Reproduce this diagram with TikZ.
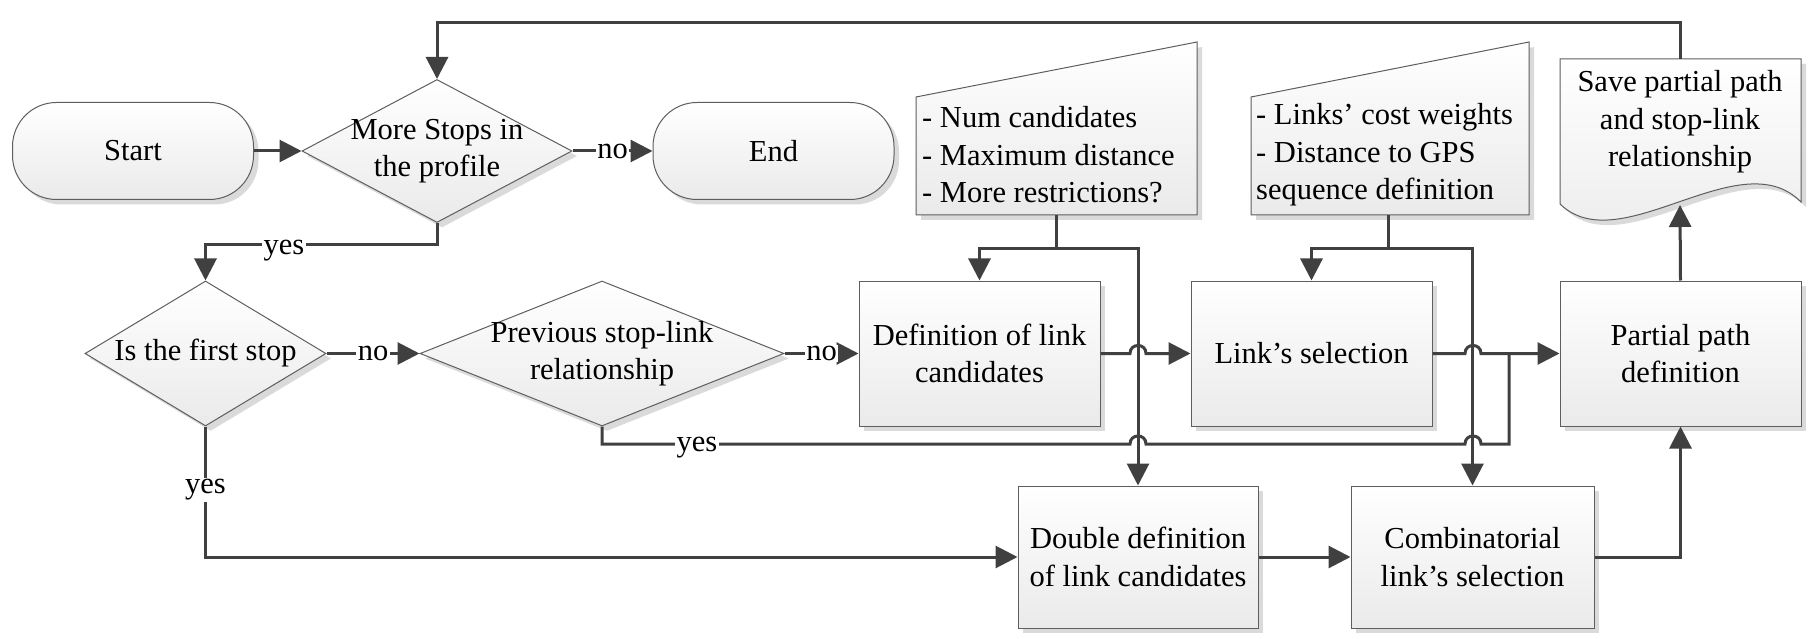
\documentclass[tikz,border=0pt]{standalone}
\usepackage{fontspec}
\setmainfont{Liberation Serif}
\usetikzlibrary{arrows.meta,shapes.geometric,shadows,calc}
\definecolor{lnc}{HTML}{404040}
\definecolor{bdc}{HTML}{5E5E5E}
\definecolor{shc}{HTML}{DADADA}
\definecolor{btm}{HTML}{EAEAEA}
\begin{document}
\begin{tikzpicture}[x=1pt,y=-1pt,
  font=\fontsize{30.5}{37.5}\selectfont,
  base/.style={draw=bdc, line width=1pt, top color=white, bottom color=btm,
    drop shadow={shadow xshift=5pt,shadow yshift=-5pt,fill=shc,opacity=1}},
  term/.style={base, rectangle, rounded corners=44pt, minimum width=241pt, minimum height=97pt, inner sep=0pt},
  dia/.style={base, diamond, inner sep=0pt},
  proc/.style={base, rectangle, minimum width=241pt, minimum height=145pt, inner sep=0pt, align=center},
  txt/.style={inner sep=0pt, align=center},
  conn/.style={draw=lnc, line width=3pt, -{Triangle[length=22pt,width=22pt]}},
  plain/.style={draw=lnc, line width=3pt},
  lbl/.style={fill=white, inner sep=1.5pt},
]
\useasboundingbox (0,0) rectangle (1813,639);

% terminals and decisions
\node[term] (start) at (133,151) {Start};
\node[dia, minimum width=270pt, minimum height=143pt] (d1) at (437,151) {};
\node[txt] (d1t) at (d1.center) {More Stops in\\the profile};
\node[term] (end) at (773.5,151) {End};

\node[dia, minimum width=241pt, minimum height=145pt] (d2) at (205.5,353.5) {};
\node[txt] (d2t) at (d2.center) {Is the first stop};
\node[dia, minimum width=364pt, minimum height=145pt] (d3) at (602,353.5) {};
\node[txt] (d3t) at (d3.center) {Previous stop-link\\relationship};

% process boxes
\node[proc] (def) at (979.5,353.5) {Definition of link\\candidates};
\node[proc] (sel) at (1311.5,353.5) {Link’s selection};
\node[proc] (part) at (1680.5,353.5) {Partial path\\definition};
\node[proc, minimum width=240pt, minimum height=142pt] (dbl) at (1138,557) {Double definition\\of link candidates};
\node[proc, minimum width=243pt, minimum height=142pt] (comb) at (1472.5,557) {Combinatorial\\link’s selection};

% manual inputs
\path[base] (916,97) -- (1197,42) -- (1197,215) -- (916,215) -- cycle;
\node[txt, align=left, anchor=west] (mi1t) at (922,155) {- Num candidates\\- Maximum distance\\- More restrictions?};
\coordinate (mi1b) at (1056,215);
\path[base] (1251,97) -- (1529,42) -- (1529,215) -- (1251,215) -- cycle;
\node[txt, align=left, anchor=west] (mi2t) at (1256,155) {- Links’ cost weights\\- Distance to GPS\\sequence definition};
\coordinate (mi2b) at (1388,215);

% document
\path[base] (1560,59) -- (1801,59) -- (1801,202) .. controls (1740,140) and (1620,262) .. (1560,204) -- cycle;
\node[txt] (doctxt) at (1680,122) {Save partial path\\and stop-link\\relationship};
\coordinate (doctop) at (1680,59);
\coordinate (docbot) at (1680,205);

% helper levels
\coordinate (ytop) at (0,23);
\coordinate (yyes) at (0,245);
\coordinate (ysplit) at (0,249);
\coordinate (yback) at (0,444);
\coordinate (xjoin) at (1509,0);

% connectors
\draw[conn] (start.east) -- (d1.west);
\draw[conn] (d1.east) -- (end.west);
\draw[conn] (doctop) -- (doctop |- ytop) -| (d1.north);
\draw[conn] (d1.south) -- (d1.south |- yyes) -| (d2.north);
\draw[conn] (d2.east) -- (d3.west);
\draw[conn] (d3.east) -- (def.west);
\draw[conn] (d2.south) |- (dbl.west);

\draw[plain] (mi1b) -- (mi1b |- ysplit);
\draw[conn] (mi1b |- ysplit) -| (def.north);
\draw[conn] (mi1b |- ysplit) -| (dbl.north);
\draw[plain] (mi2b) -- (mi2b |- ysplit);
\draw[conn] (mi2b |- ysplit) -| (sel.north);
\draw[conn] (mi2b |- ysplit) -| (comb.north);

\draw[plain] (d3.south) -- (d3.south |- yback) -- (1130,444)
  .. controls (1130,433.3) and (1146,433.3) .. (1146,444) -- (1465,444)
  .. controls (1465,433.3) and (1481,433.3) .. (1481,444) -- (xjoin |- yback) -- (xjoin |- sel.east);
\draw[conn] (def.east) -- (1130,353.5)
  .. controls (1130,342.8) and (1146,342.8) .. (1146,353.5) -- (sel.west);
\draw[conn] (sel.east) -- (1465,353.5)
  .. controls (1465,342.8) and (1481,342.8) .. (1481,353.5) -- (part.west);
\draw[conn] (dbl.east) -- (comb.west);
\draw[conn] (comb.east) -| (part.south);
\draw[conn] (part.north) -- (docbot);

% labels
\node[lbl] (no1) at ($(d1.east)!0.5!(end.west)$) {no};
\node[lbl] (no2) at ($(d2.east)!0.5!(d3.west)$) {no};
\node[lbl] (no3) at ($(d3.east)!0.5!(def.west)$) {no};
\node[lbl] (yes1) at (284,251) {yes};
\node[lbl] (yes2) at (697,448) {yes};
\node[lbl] (yes3) at (205.5,490) {yes};
\end{tikzpicture}
\end{document}
